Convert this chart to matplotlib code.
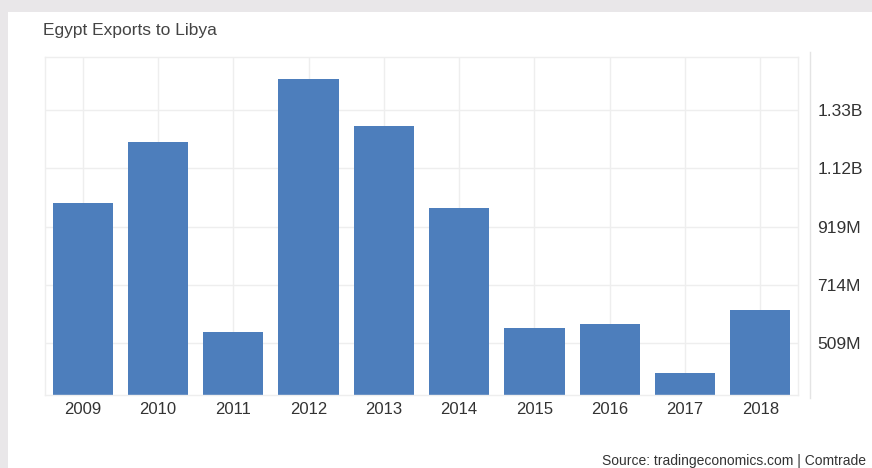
import matplotlib.pyplot as plt
from matplotlib.patches import Rectangle
from matplotlib.lines import Line2D

years = ['2009', '2010', '2011', '2012', '2013', '2014', '2015', '2016', '2017', '2018']
exports_m = [1003, 1218, 549, 1437, 1274, 984, 561, 575, 402, 625]  # millions USD
ytick_vals = [509, 714, 919, 1124, 1329]
ytick_labels = ['509M', '714M', '919M', '1.12B', '1.33B']

plt.rcParams['font.family'] = ['Liberation Sans', 'DejaVu Sans']

W, H = 872, 468
fig = plt.figure(figsize=(W / 100, H / 100), dpi=100, facecolor='#e9e7e9')
# white card behind everything
fig.patches.append(Rectangle((8 / W, 0), 1, (H - 12) / H, transform=fig.transFigure,
                             facecolor='white', edgecolor='none', zorder=-10))

left, right, top, bottom = 45, 798, 57, 395
ax = fig.add_axes([left / W, 1 - bottom / H, (right - left) / W, (bottom - top) / H])
ax.set_zorder(2)
ax.set_facecolor('white')

x = range(len(years))
ax.bar(x, exports_m, width=0.8, color='#4d7ebc', zorder=2)

ax.set_xlim(-0.5, len(years) - 0.5)
ax.set_ylim(326, 1516)
ax.set_xticks(list(x))
ax.set_xticklabels(years)
ax.set_yticks(ytick_vals)
ax.set_yticklabels(ytick_labels)
ax.yaxis.tick_right()
ax.tick_params(axis='y', length=0, pad=14, labelsize=12.5, labelcolor='#333333')
ax.tick_params(axis='x', length=0, pad=5, labelsize=12, labelcolor='#333333')
for lbl in ax.get_yticklabels():
    lbl.set_horizontalalignment('left')
    lbl.set_y(lbl.get_position()[1])

ax.set_axisbelow(True)
ax.grid(True, color='#eeeeee', linewidth=1)
for s in ax.spines.values():
    s.set_color('#eeeeee')
    s.set_linewidth(1)

# right axis line
fig.add_artist(Line2D([810 / W, 810 / W], [1 - 398 / H, 1 - 52 / H], transform=fig.transFigure,
                      color='#e4e4e4', linewidth=1))

fig.text(43 / W, 1 - 31 / H, 'Egypt Exports to Libya', fontsize=12.5, color='#444444',
         ha='left', va='center')
fig.text(866 / W, 1 - 461 / H, 'Source: tradingeconomics.com | Comtrade', fontsize=10,
         color='#333333', ha='right', va='center')

fig.savefig('out.png', dpi=100, facecolor=fig.get_facecolor())
